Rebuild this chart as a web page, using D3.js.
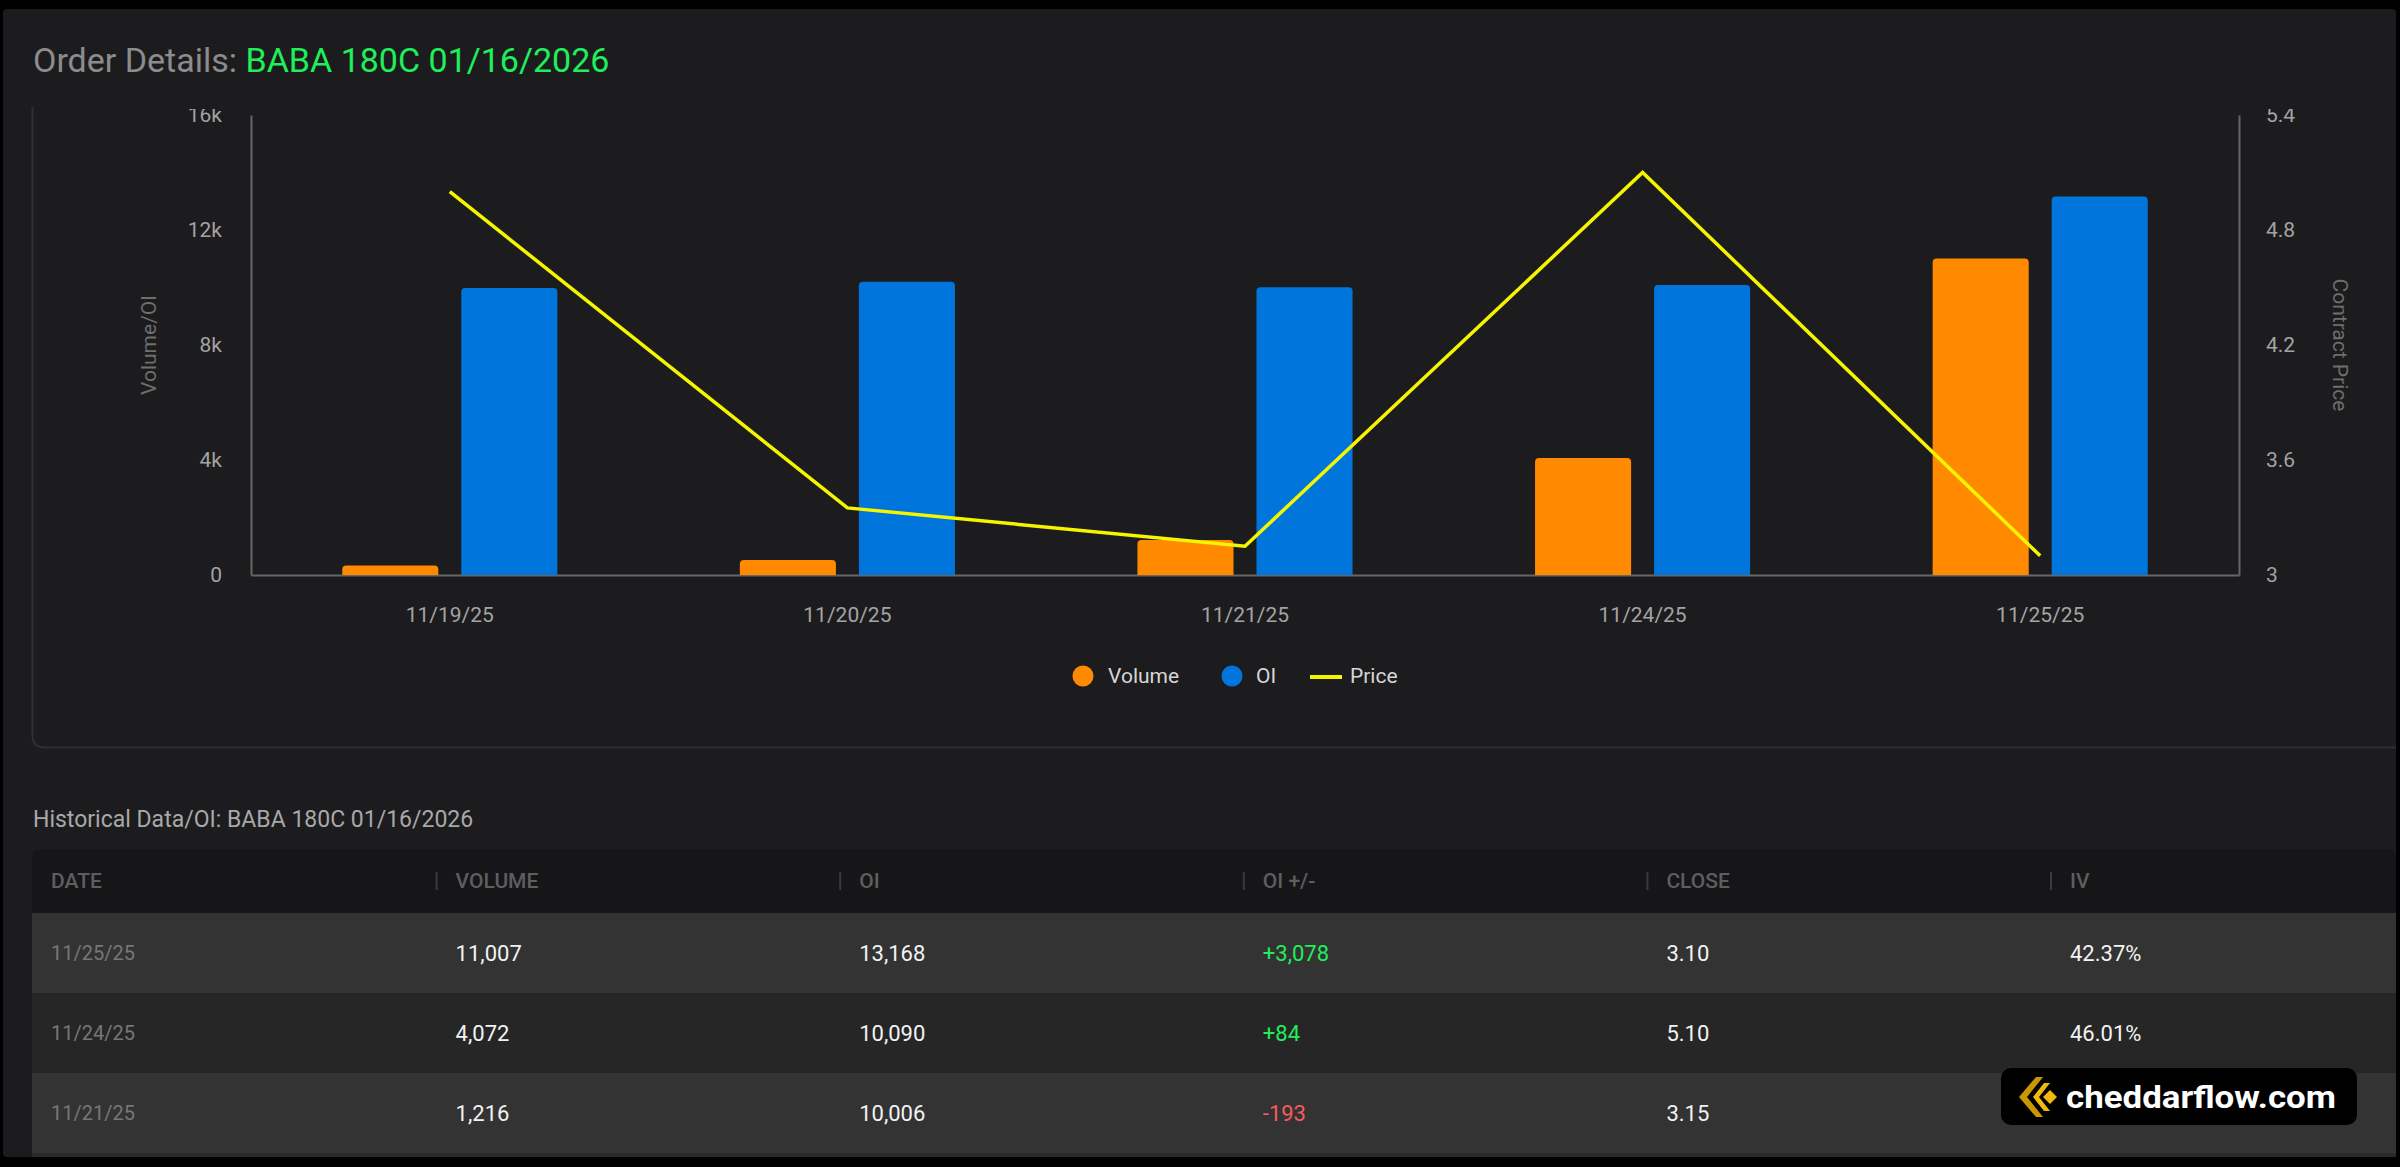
<!DOCTYPE html>
<html>
<head>
<meta charset="utf-8">
<script src="https://cdn.jsdelivr.net/npm/d3@7"></script>
<style>
  html, body { margin: 0; padding: 0; background: #000; overflow: hidden; }
  svg { display: block; font-family: Roboto, "Liberation Sans", Arial, sans-serif; }
</style>
</head>
<body>
<script>
// ---------- DATA ----------
const dates = ["11/19/25", "11/20/25", "11/21/25", "11/24/25", "11/25/25"];
const volume = [330, 520, 1216, 4072, 11007];
const openInterest = [9980, 10199, 10006, 10090, 13168];
const price = [5.00, 3.35, 3.15, 5.10, 3.10];
const volumeTicks = [0, 4000, 8000, 12000, 16000];
const priceTicks = [3, 3.6, 4.2, 4.8, 5.4];
const seriesNames = ["Volume", "OI"];

const tableColumns = ["DATE", "VOLUME", "OI", "OI +/-", "CLOSE", "IV"];
const tableDates = ["11/25/25", "11/24/25", "11/21/25"];
const tableVolume = ["11,007", "4,072", "1,216"];
const tableOI = ["13,168", "10,090", "10,006"];
const tableOIChange = ["+3,078", "+84", "-193"];
const tableClose = ["3.10", "5.10", "3.15"];
const tableIV = ["42.37%", "46.01%", ""];

// ---------- STYLE ----------
const C = {
  panel: "#1c1c1e", border: "#2f2f31", axis: "#666666", tick: "#a3a3a3",
  axisTitle: "#6e6e6e", orange: "#ff8a00", blue: "#0076dc", yellow: "#f5f500",
  green: "#20ee5a", red: "#f25c5c", legend: "#d6d6d6"
};

const svg = d3.select("body").append("svg").attr("width", 2400).attr("height", 1167);

// panel
svg.append("rect").attr("x", 3).attr("y", 9).attr("width", 2393).attr("height", 1148)
  .attr("rx", 4).attr("fill", C.panel);

// card border (chart box)
svg.append("path").attr("d", "M32.5,107 V735 Q32.5,747.5 45,747.5 H2396")
  .attr("fill", "none").attr("stroke", C.border).attr("stroke-width", 2);

// title
const title = svg.append("text").attr("x", 33).attr("y", 72).attr("font-size", 34);
title.append("tspan").attr("fill", "#8c8c8c").text("Order Details: ");
title.append("tspan").attr("fill", C.green).text("BABA 180C 01/16/2026");

// ---------- CHART ----------
const plotLeft = 251, plotRight = 2239, plotTop = 115, plotBottom = 575;
svg.append("clipPath").attr("id", "clip").append("rect")
  .attr("x", 33).attr("y", 109).attr("width", 2363).attr("height", 636);
const g = svg.append("g").attr("clip-path", "url(#clip)");

const x = d3.scaleBand().domain(dates).range([plotLeft, plotRight]).padding(0);
const groupW = x.bandwidth() * 0.541;
const x1 = d3.scaleBand().domain(seriesNames).range([0, groupW]).paddingInner(0.193);
const yL = d3.scaleLinear().domain([0, 16000]).range([plotBottom, plotTop]);
const yR = d3.scaleLinear().domain([3, 5.4]).range([plotBottom, plotTop]);

function styleAxis(sel) {
  sel.select(".domain").attr("stroke", C.axis).attr("stroke-width", 2);
  sel.selectAll(".tick text").attr("fill", C.tick).attr("font-size", 21)
     .attr("font-family", "Roboto, 'Liberation Sans', sans-serif");
  sel.selectAll(".tick line").remove();
}

g.append("g").attr("transform", `translate(${plotLeft},0)`)
  .call(d3.axisLeft(yL).tickValues(volumeTicks).tickSize(0).tickSizeOuter(0).tickPadding(29)
    .tickFormat(d => d === 0 ? "0" : (d / 1000) + "k"))
  .call(styleAxis);

g.append("g").attr("transform", `translate(${plotRight},0)`)
  .call(d3.axisRight(yR).tickValues(priceTicks).tickSize(0).tickSizeOuter(0).tickPadding(27)
    .tickFormat(d => String(+d.toFixed(1))))
  .call(styleAxis);

g.append("g").attr("transform", `translate(0,${plotBottom})`)
  .call(d3.axisBottom(x).tickSize(0).tickSizeOuter(0).tickPadding(32))
  .call(styleAxis);

// axis titles
g.append("text").attr("transform", `translate(156,345) rotate(-90)`)
  .attr("text-anchor", "middle").attr("font-size", 21).attr("fill", C.axisTitle).text("Volume/OI");
g.append("text").attr("transform", `translate(2333,345) rotate(90)`)
  .attr("text-anchor", "middle").attr("font-size", 21).attr("fill", C.axisTitle).text("Contract Price");

// bars with rounded top corners
function topRounded(x0, y0, w, h, r) {
  r = Math.min(r, h, w / 2);
  return `M${x0},${y0 + h} V${y0 + r} Q${x0},${y0} ${x0 + r},${y0} H${x0 + w - r} Q${x0 + w},${y0} ${x0 + w},${y0 + r} V${y0 + h} Z`;
}
const barData = dates.map((d, i) => [
  { date: d, key: "Volume", value: volume[i], color: C.orange },
  { date: d, key: "OI", value: openInterest[i], color: C.blue }
]).flat();

g.append("g").selectAll("path").data(barData).join("path")
  .attr("fill", d => d.color)
  .attr("d", d => {
    const bx = x(d.date) + (x.bandwidth() - groupW) / 2 + x1(d.key);
    const by = yL(d.value);
    return topRounded(bx, by, x1.bandwidth(), plotBottom - by, 4);
  });

// price line
const priceData = dates.map((d, i) => ({ date: d, price: price[i] }));
g.append("path").datum(priceData)
  .attr("fill", "none").attr("stroke", C.yellow).attr("stroke-width", 3.5)
  .attr("d", d3.line().x(d => x(d.date) + x.bandwidth() / 2).y(d => yR(d.price)));

// legend
const lg = svg.append("g").attr("font-size", 21).attr("fill", C.legend);
lg.append("circle").attr("cx", 1083).attr("cy", 676).attr("r", 10.5).attr("fill", C.orange);
lg.append("text").attr("x", 1108).attr("y", 676).attr("dy", "0.35em").text("Volume");
lg.append("circle").attr("cx", 1232).attr("cy", 676).attr("r", 10.5).attr("fill", C.blue);
lg.append("text").attr("x", 1256).attr("y", 676).attr("dy", "0.35em").text("OI");
lg.append("line").attr("x1", 1310).attr("x2", 1342).attr("y1", 677).attr("y2", 677)
  .attr("stroke", C.yellow).attr("stroke-width", 4);
lg.append("text").attr("x", 1350).attr("y", 676).attr("dy", "0.35em").text("Price");

// ---------- TABLE ----------
svg.append("text").attr("x", 33).attr("y", 827).attr("font-size", 23).attr("fill", "#a8a8a8")
  .text("Historical Data/OI: BABA 180C 01/16/2026");

const tx0 = 32, colW = 403.6, tRight = 2396;
svg.append("rect").attr("x", tx0).attr("y", 849).attr("width", tRight - tx0).attr("height", 72)
  .attr("rx", 8).attr("fill", "#161618");

const headY = 881;
tableColumns.forEach((c, i) => {
  const cx = tx0 + colW * i;
  if (i > 0) {
    svg.append("rect").attr("x", cx).attr("y", 872).attr("width", 2).attr("height", 18).attr("fill", "#3a3a3c");
  }
  svg.append("text").attr("x", i === 0 ? cx + 19 : cx + 20).attr("y", headY).attr("dy", "0.35em")
    .attr("font-size", 21).attr("font-weight", 500).attr("fill", "#5e5e5e").text(c);
});

const rows = tableDates.map((d, i) => [d, tableVolume[i], tableOI[i], tableOIChange[i], tableClose[i], tableIV[i]]);
const rowH = 80, rowTop = 913;
const rowColors = ["#333333", "#262626", "#333333"];
rows.forEach((r, ri) => {
  const ry = rowTop + ri * rowH;
  svg.append("rect").attr("x", tx0).attr("y", ry).attr("width", tRight - tx0).attr("height", rowH)
    .attr("fill", rowColors[ri]);
  r.forEach((v, ci) => {
    const cx = tx0 + colW * ci + (ci === 0 ? 19 : 20);
    let fill = "#f2f2f2", fs = 22;
    if (ci === 0) { fill = "#777777"; fs = 20; }
    if (ci === 3) fill = v.startsWith("-") ? C.red : C.green;
    svg.append("text").attr("x", cx).attr("y", ry + rowH / 2).attr("dy", "0.35em")
      .attr("font-size", fs).attr("fill", fill).text(v);
  });
});
svg.append("rect").attr("x", tx0).attr("y", rowTop + rows.length * rowH).attr("width", tRight - tx0)
  .attr("height", 4).attr("fill", "#2a2a2a");

// watermark badge
const wb = svg.append("g");
wb.append("rect").attr("x", 2001).attr("y", 1068).attr("width", 356).attr("height", 57)
  .attr("rx", 10).attr("fill", "#000");
wb.append("polygon").attr("points", "2036,1077 2043,1077 2027,1097 2043,1117 2036,1117 2019,1097").attr("fill", "#c99700");
wb.append("polygon").attr("points", "2044,1083 2050,1083 2039,1097 2050,1111 2044,1111 2033,1097").attr("fill", "#f0b90b");
wb.append("polygon").attr("points", "2050,1090 2057,1097 2050,1104 2043,1097").attr("fill", "#f0b90b");
wb.append("text").attr("x", 2066).attr("y", 1108).attr("font-size", 31).attr("font-weight", 700)
  .attr("fill", "#ffffff").attr("textLength", 270).attr("lengthAdjust", "spacingAndGlyphs")
  .text("cheddarflow.com");
</script>
</body>
</html>
